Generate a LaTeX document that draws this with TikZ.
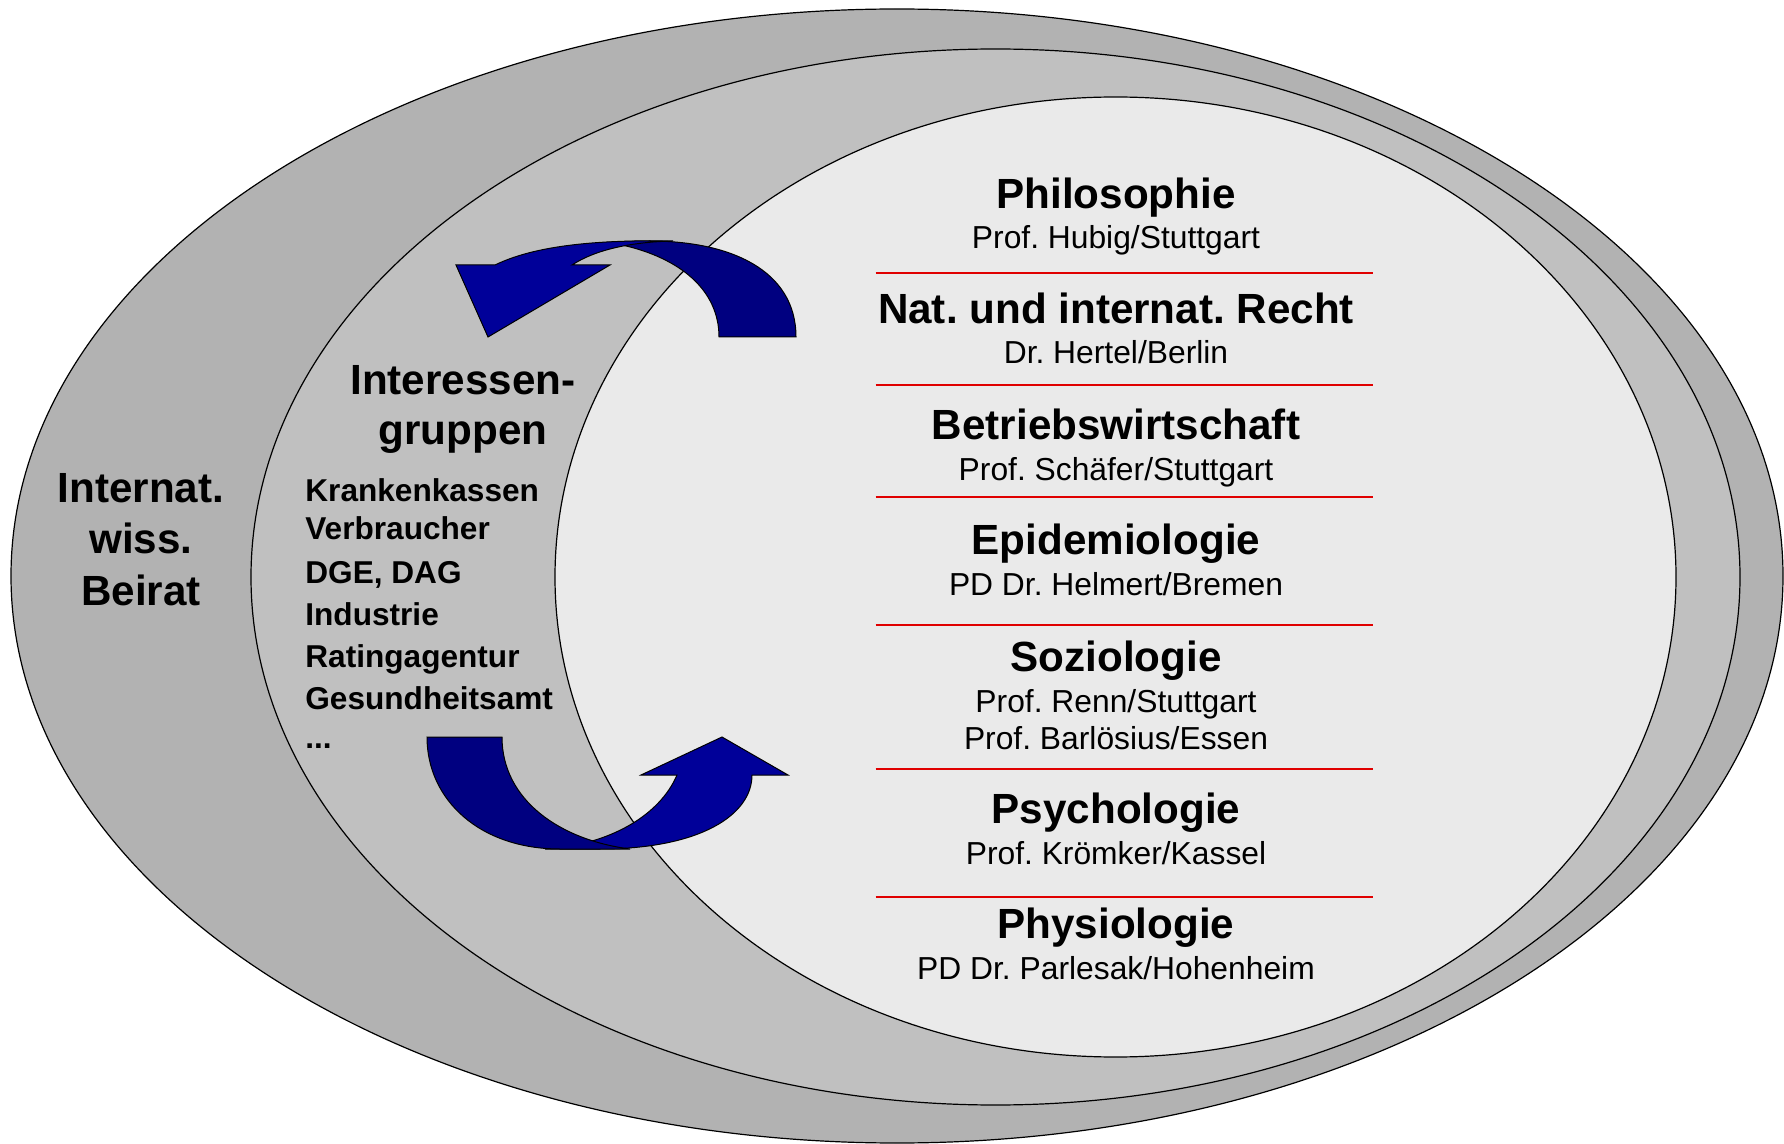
\documentclass[tikz,border=0pt]{standalone}
\usepackage{fontspec}
\setmainfont{Liberation Sans}
\definecolor{ringouter}{RGB}{178,178,178}
\definecolor{ringmiddle}{RGB}{192,192,192}
\definecolor{ringinner}{RGB}{234,234,234}
\definecolor{backblue}{RGB}{0,0,128}
\definecolor{frontblue}{RGB}{0,0,153}
\definecolor{seppred}{RGB}{224,0,0}
\begin{document}
\frenchspacing
\begin{tikzpicture}[x=0.5pt,y=0.5pt,yscale=-1,
  ring/.style={draw=black,line width=0.6pt},
  backband/.style={draw=black,line width=0.5pt,fill=backblue},
  frontband/.style={draw=black,line width=0.5pt,fill=frontblue},
  fach/.style={anchor=base,inner sep=0pt,font=\fontsize{21.1}{25}\selectfont\bfseries},
  person/.style={anchor=base,inner sep=0pt,font=\fontsize{15.9}{19}\selectfont},
  gruppe/.style={anchor=base west,inner sep=0pt,font=\fontsize{15.8}{19}\selectfont\bfseries},
  sepline/.style={draw=seppred,line width=1pt}]
\useasboundingbox (0,0) rectangle (1784,1144);

%Shape: Ellipse
\draw[ring,fill=ringouter] (897,576) ellipse [x radius=886,y radius=567];
%Shape: Ellipse
\draw[ring,fill=ringmiddle] (995.5,577) ellipse [x radius=744.5,y radius=528];
%Shape: Ellipse
\draw[ring,fill=ringinner] (1115.5,577) ellipse [x radius=560.5,y radius=480];

%Curved Arrow (top)
\draw[backband] (719,337) -- (796,337) .. controls (796,270) and (730,241) .. (650,241) .. controls (630,241) and (610,242) .. (600,243) -- (622,245) .. controls (680,258) and (719,290) .. (719,337) -- cycle;
\draw[frontband] (673,241) .. controls (610,240) and (540,243) .. (495,265) -- (456,265) -- (488,337) -- (610,265) -- (572,265) .. controls (595,250) and (630,242) .. (673,241) -- cycle;

%Curved Arrow (bottom)
\draw[frontband] (545,849) -- (600,849) .. controls (700,849) and (752,815) .. (752,775) -- (788,775) -- (722,737) -- (641,775) -- (677,775) .. controls (660,815) and (610,845) .. (545,849) -- cycle;
\draw[backband] (427,737) -- (502,737) .. controls (502,800) and (560,840) .. (630,849) -- (560,849) .. controls (480,849) and (427,800) .. (427,737) -- cycle;

%Straight Lines
\foreach \y in {273,385,497,625,769,897}
  \draw[sepline] (875.5,\y) -- (1373,\y);

% Text Node
\node[fach] (beirata) at (141,503) {Internat.};
\node[fach] (beiratb) at (141,553) {wiss.};
\node[fach] (beiratc) at (141,605) {Beirat};
% Text Node
\node[fach] (gruppena) at (463,395) {Interessen-};
\node[fach] (gruppenb) at (463,445) {gruppen};
% Text Node
\node[gruppe] (kasse) at (305,502) {Krankenkassen};
\node[gruppe] (verbr) at (305,540) {Verbraucher};
\node[gruppe] (dge) at (305,583) {DGE, DAG};
\node[gruppe] (indu) at (305,625) {Industrie};
\node[gruppe] (rating) at (305,667) {Ratingagentur};
\node[gruppe] (gesamt) at (305,709) {Gesundheitsamt};
\node[gruppe] (usw) at (305,748) {...};

% Text Node
\node[fach] (philo) at (1116,209) {Philosophie};
\node[person] (philop) at (1116,249) {Prof. Hubig/Stuttgart};
% Text Node
\node[fach] (recht) at (1116,324) {Nat. und internat. Recht};
\node[person] (rechtp) at (1116,364) {Dr. Hertel/Berlin};
% Text Node
\node[fach] (bwl) at (1116,440) {Betriebswirtschaft};
\node[person] (bwlp) at (1116,481) {Prof. Schäfer/Stuttgart};
% Text Node
\node[fach] (epi) at (1116,555) {Epidemiologie};
\node[person] (epip) at (1116,596) {PD Dr. Helmert/Bremen};
% Text Node
\node[fach] (sozio) at (1116,671) {Soziologie};
\node[person] (soziop) at (1116,712) {Prof. Renn/Stuttgart};
\node[person] (soziopp) at (1116,749) {Prof. Barlösius/Essen};
% Text Node
\node[fach] (psycho) at (1116,823) {Psychologie};
\node[person] (psychop) at (1116,864) {Prof. Krömker/Kassel};
% Text Node
\node[fach] (physio) at (1116,938) {Physiologie};
\node[person] (physiop) at (1116,979) {PD Dr. Parlesak/Hohenheim};

\end{tikzpicture}
\end{document}
